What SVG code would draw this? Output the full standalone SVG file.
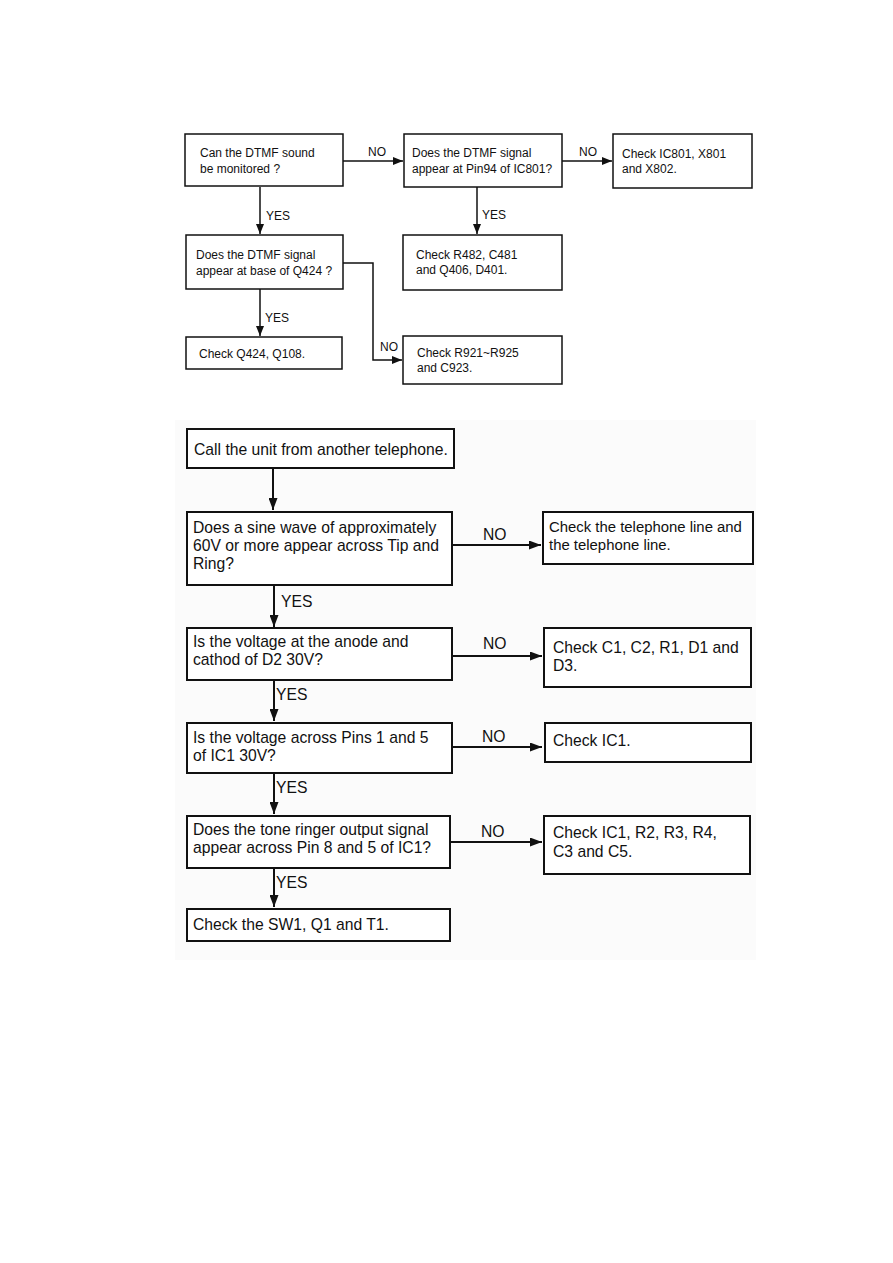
<svg xmlns="http://www.w3.org/2000/svg" width="893" height="1263" viewBox="0 0 893 1263">
<defs>
<style>
.t{font-family:"Liberation Sans",Arial,sans-serif;font-size:12px;fill:#111}
.b{font-family:"Liberation Sans",Arial,sans-serif;font-size:15.7px;fill:#111}
.bs{font-family:"Liberation Sans",Arial,sans-serif;font-size:14.9px;fill:#111}
.bx{fill:#fff;stroke:#111;stroke-width:1.5}
.bb{fill:#fff;stroke:#111;stroke-width:2}
.c{fill:none;stroke:#111;stroke-width:1.5}
.cb{fill:none;stroke:#111;stroke-width:2}
</style>
<marker id="ah" viewBox="0 0 10 8" refX="10" refY="4" markerWidth="10" markerHeight="8" markerUnits="userSpaceOnUse" orient="auto"><path d="M0,0 L10,4 L0,8 Z" fill="#111"/></marker>
<marker id="ahb" viewBox="0 0 12 9" refX="12" refY="4.5" markerWidth="12" markerHeight="9" markerUnits="userSpaceOnUse" orient="auto"><path d="M0,0 L12,4.5 L0,9 Z" fill="#111"/></marker>
</defs>
<rect x="0" y="0" width="893" height="1263" fill="#fff"/>
<rect x="175" y="420" width="581" height="540" fill="#fbfbfb"/>

<g id="connectors">
<path class="c" d="M343,161 H403" marker-end="url(#ah)"/>
<text class="t" x="368" y="156">NO</text>
<path class="c" d="M562,161 H612" marker-end="url(#ah)"/>
<text class="t" x="579" y="156">NO</text>
<path class="c" d="M260,187 V234" marker-end="url(#ah)"/>
<text class="t" x="266" y="220">YES</text>
<path class="c" d="M477,187 V234" marker-end="url(#ah)"/>
<text class="t" x="482" y="219">YES</text>
<path class="c" d="M260,289 V336" marker-end="url(#ah)"/>
<text class="t" x="265" y="322">YES</text>
<path class="c" d="M343,263 H373 V360 H402" marker-end="url(#ah)"/>
<text class="t" x="380" y="351">NO</text>

<path class="cb" d="M273,468 V510" marker-end="url(#ahb)"/>
<path class="cb" d="M452,545 H541" marker-end="url(#ahb)"/>
<text class="b" x="483" y="540">NO</text>
<path class="cb" d="M274,585 V627" marker-end="url(#ahb)"/>
<text class="b" x="281" y="607">YES</text>
<path class="cb" d="M452,656 H542" marker-end="url(#ahb)"/>
<text class="b" x="483" y="649">NO</text>
<path class="cb" d="M274,680 V721" marker-end="url(#ahb)"/>
<text class="b" x="276" y="700">YES</text>
<path class="cb" d="M452,747 H542" marker-end="url(#ahb)"/>
<text class="b" x="482" y="742">NO</text>
<path class="cb" d="M274,773 V814" marker-end="url(#ahb)"/>
<text class="b" x="276" y="793">YES</text>
<path class="cb" d="M450,842 H542" marker-end="url(#ahb)"/>
<text class="b" x="481" y="837">NO</text>
<path class="cb" d="M274,868 V907" marker-end="url(#ahb)"/>
<text class="b" x="276" y="888">YES</text>
</g>

<g id="nodeA"><rect class="bx" x="185" y="134" width="158" height="52"/>
<text class="t" x="200" y="157">Can the DTMF sound</text><text class="t" x="200" y="173">be monitored ?</text></g>
<g id="nodeB"><rect class="bx" x="404" y="134" width="158" height="53"/>
<text class="t" x="412" y="157">Does the DTMF signal</text><text class="t" x="412" y="173">appear at Pin94 of IC801?</text></g>
<g id="nodeC"><rect class="bx" x="613" y="134" width="139" height="54"/>
<text class="t" x="622" y="158">Check IC801, X801</text><text class="t" x="622" y="173">and X802.</text></g>
<g id="nodeD"><rect class="bx" x="186" y="235" width="157" height="54"/>
<text class="t" x="196" y="259">Does the DTMF signal</text><text class="t" x="196" y="275">appear at base of Q424 ?</text></g>
<g id="nodeE"><rect class="bx" x="403" y="235" width="159" height="55"/>
<text class="t" x="416" y="259">Check R482, C481</text><text class="t" x="416" y="274">and Q406, D401.</text></g>
<g id="nodeF"><rect class="bx" x="186" y="337" width="156" height="32"/>
<text class="t" x="199" y="358">Check Q424, Q108.</text></g>
<g id="nodeG"><rect class="bx" x="403" y="336" width="159" height="48"/>
<text class="t" x="417" y="357">Check R921~R925</text><text class="t" x="417" y="372">and C923.</text></g>

<g id="nodeH"><rect class="bb" x="187" y="429" width="267" height="39"/>
<text class="b" x="194" y="455">Call the unit from another telephone.</text></g>
<g id="nodeI"><rect class="bb" x="187" y="512" width="265" height="73"/>
<text class="b" x="193" y="533">Does a sine wave of approximately</text><text class="b" x="193" y="551">60V or more appear across Tip and</text><text class="b" x="193" y="569">Ring?</text></g>
<g id="nodeJ"><rect class="bb" x="543" y="512" width="210" height="52"/>
<text class="bs" x="549" y="532">Check the telephone line and</text><text class="bs" x="549" y="550">the telephone line.</text></g>
<g id="nodeK"><rect class="bb" x="187" y="628" width="265" height="52"/>
<text class="b" x="193" y="647">Is the voltage at the anode and</text><text class="b" x="193" y="665">cathod of D2 30V?</text></g>
<g id="nodeL"><rect class="bb" x="544" y="628" width="207" height="59"/>
<text class="b" x="553" y="653">Check C1, C2, R1, D1 and</text><text class="b" x="553" y="671">D3.</text></g>
<g id="nodeM"><rect class="bb" x="187" y="723" width="265" height="50"/>
<text class="b" x="193" y="743">Is the voltage across Pins 1 and 5</text><text class="b" x="193" y="761">of IC1 30V?</text></g>
<g id="nodeN"><rect class="bb" x="545" y="723" width="206" height="39"/>
<text class="b" x="553" y="746">Check IC1.</text></g>
<g id="nodeO"><rect class="bb" x="187" y="816" width="263" height="52"/>
<text class="b" x="193" y="835">Does the tone ringer output signal</text><text class="b" x="193" y="853">appear across Pin 8 and 5 of IC1?</text></g>
<g id="nodeP"><rect class="bb" x="544" y="816" width="206" height="58"/>
<text class="b" x="553" y="838">Check IC1, R2, R3, R4,</text><text class="b" x="553" y="857">C3 and C5.</text></g>
<g id="nodeQ"><rect class="bb" x="187" y="909" width="263" height="32"/>
<text class="b" x="193" y="930">Check the SW1, Q1 and T1.</text></g>
</svg>
